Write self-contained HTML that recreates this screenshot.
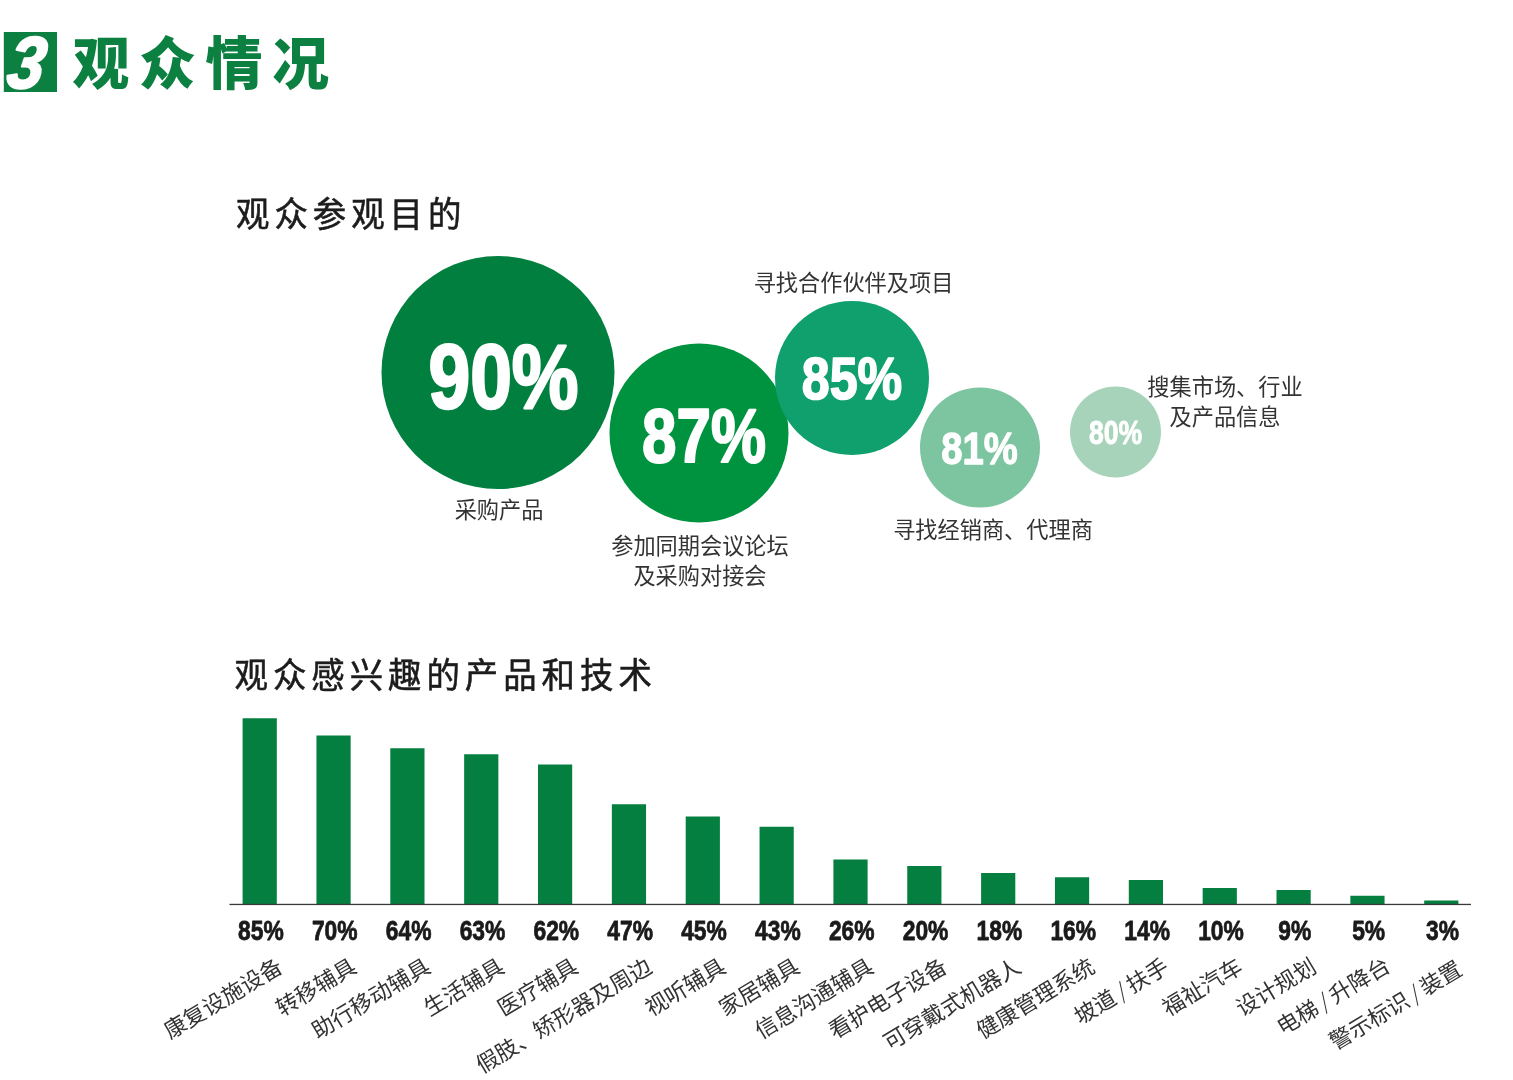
<!DOCTYPE html>
<html lang="zh-CN">
<head>
<meta charset="utf-8">
<title>观众情况</title>
<style>
html,body{margin:0;padding:0;background:#fff;}
body{width:1513px;height:1080px;overflow:hidden;}
svg{display:block;}
text{font-family:"Liberation Sans","Noto Sans CJK SC",sans-serif;}
.n{font-family:"Liberation Sans",sans-serif;font-weight:bold;}
.c{font-family:"Liberation Sans","Noto Sans CJK SC",sans-serif;font-weight:400;fill:#333333;font-size:22.2px;}
.sl{font-family:"Noto Sans CJK SC",sans-serif;font-weight:300;}
.h{font-family:"Liberation Sans","Noto Sans CJK SC",sans-serif;font-weight:400;fill:#1c1c1c;stroke:#1c1c1c;stroke-width:0.55px;font-size:33.4px;letter-spacing:5.0px;}
.t{font-family:"Liberation Sans","Noto Sans CJK SC",sans-serif;font-weight:900;fill:#0c8040;font-size:57px;letter-spacing:9.5px;}
</style>
</head>
<body>
<svg width="1513" height="1080" viewBox="0 0 1513 1080">
<rect width="1513" height="1080" fill="#ffffff"/>

<!-- section title -->
<clipPath id="bx"><rect x="3.8" y="32" width="53.2" height="60"/></clipPath>
<rect x="3.8" y="32" width="53.2" height="60" fill="#0c8040"/>
<g clip-path="url(#bx)"><text transform="translate(4.9,88.4) skewX(-9) scale(0.89,0.99)" font-size="74" font-weight="bold" font-style="italic" fill="#ffffff" stroke="#ffffff" stroke-width="2.2" stroke-linejoin="round" class="n">3</text></g>
<text x="72.5" y="84" class="t">观众情况</text>
<text transform="translate(236,227.3) scale(1,1.04)" class="h">观众参观目的</text>
<!-- purpose bubbles -->
<circle cx="699" cy="433" r="89.5" fill="#00933f"/>
<circle cx="498" cy="372.5" r="116.5" fill="#007f3f"/>
<circle cx="980" cy="447.5" r="60" fill="#7dc4a1"/>
<circle cx="852" cy="378" r="77" fill="#0fa06e"/>
<circle cx="1115.5" cy="432" r="45.5" fill="#a6d3ba"/>
<text transform="translate(503.50,407.60) scale(0.82,1)" text-anchor="middle" font-size="91.5" fill="#ffffff" stroke="#ffffff" stroke-width="2.56" stroke-linejoin="round" class="n">90%</text>
<text transform="translate(704.00,461.50) scale(0.82,1)" text-anchor="middle" font-size="75.5" fill="#ffffff" stroke="#ffffff" stroke-width="2.11" stroke-linejoin="round" class="n">87%</text>
<text transform="translate(852.00,399.00) scale(0.836,1)" text-anchor="middle" font-size="60" fill="#ffffff" stroke="#ffffff" stroke-width="1.68" stroke-linejoin="round" class="n">85%</text>
<text transform="translate(979.50,463.50) scale(0.85,1)" text-anchor="middle" font-size="45" fill="#ffffff" stroke="#ffffff" stroke-width="1.26" stroke-linejoin="round" class="n">81%</text>
<text transform="translate(1115.50,443.60) scale(0.815,1)" text-anchor="middle" font-size="32.6" fill="#ffffff" stroke="#ffffff" stroke-width="0.91" stroke-linejoin="round" class="n">80%</text>
<text x="499" y="518" text-anchor="middle" class="c">采购产品</text>
<text x="700" y="553.5" text-anchor="middle" class="c">参加同期会议论坛</text>
<text x="700" y="584" text-anchor="middle" class="c">及采购对接会</text>
<text x="853.5" y="290.5" text-anchor="middle" class="c">寻找合作伙伴及项目</text>
<text x="993" y="538" text-anchor="middle" class="c">寻找经销商、代理商</text>
<text x="1225" y="395" text-anchor="middle" class="c">搜集市场、行业</text>
<text x="1225" y="424.5" text-anchor="middle" class="c">及产品信息</text>
<text transform="translate(234.5,688.3) scale(1,1.04)" class="h">观众感兴趣的产品和技术</text>
<!-- interest bar chart -->
<rect x="242.60" y="718.25" width="34.2" height="185.75" fill="#047f40"/>
<rect x="316.45" y="735.50" width="34.2" height="168.50" fill="#047f40"/>
<rect x="390.30" y="748.25" width="34.2" height="155.75" fill="#047f40"/>
<rect x="464.15" y="754.25" width="34.2" height="149.75" fill="#047f40"/>
<rect x="538.00" y="764.50" width="34.2" height="139.50" fill="#047f40"/>
<rect x="611.85" y="804.25" width="34.2" height="99.75" fill="#047f40"/>
<rect x="685.70" y="816.50" width="34.2" height="87.50" fill="#047f40"/>
<rect x="759.55" y="826.75" width="34.2" height="77.25" fill="#047f40"/>
<rect x="833.40" y="859.50" width="34.2" height="44.50" fill="#047f40"/>
<rect x="907.25" y="866.00" width="34.2" height="38.00" fill="#047f40"/>
<rect x="981.10" y="873.00" width="34.2" height="31.00" fill="#047f40"/>
<rect x="1054.95" y="877.25" width="34.2" height="26.75" fill="#047f40"/>
<rect x="1128.80" y="880.00" width="34.2" height="24.00" fill="#047f40"/>
<rect x="1202.65" y="888.00" width="34.2" height="16.00" fill="#047f40"/>
<rect x="1276.50" y="890.00" width="34.2" height="14.00" fill="#047f40"/>
<rect x="1350.35" y="895.75" width="34.2" height="8.25" fill="#047f40"/>
<rect x="1424.20" y="900.50" width="34.2" height="3.50" fill="#047f40"/>
<rect x="229.5" y="903.80" width="1241.5" height="1.3" fill="#3a3a3a"/>
<text transform="translate(260.90,939.60) scale(0.845,1)" text-anchor="middle" font-size="27" fill="#1a1a1a" stroke="#1a1a1a" stroke-width="0.76" stroke-linejoin="round" class="n">85%</text>
<text transform="translate(334.75,939.60) scale(0.845,1)" text-anchor="middle" font-size="27" fill="#1a1a1a" stroke="#1a1a1a" stroke-width="0.76" stroke-linejoin="round" class="n">70%</text>
<text transform="translate(408.60,939.60) scale(0.845,1)" text-anchor="middle" font-size="27" fill="#1a1a1a" stroke="#1a1a1a" stroke-width="0.76" stroke-linejoin="round" class="n">64%</text>
<text transform="translate(482.45,939.60) scale(0.845,1)" text-anchor="middle" font-size="27" fill="#1a1a1a" stroke="#1a1a1a" stroke-width="0.76" stroke-linejoin="round" class="n">63%</text>
<text transform="translate(556.30,939.60) scale(0.845,1)" text-anchor="middle" font-size="27" fill="#1a1a1a" stroke="#1a1a1a" stroke-width="0.76" stroke-linejoin="round" class="n">62%</text>
<text transform="translate(630.15,939.60) scale(0.845,1)" text-anchor="middle" font-size="27" fill="#1a1a1a" stroke="#1a1a1a" stroke-width="0.76" stroke-linejoin="round" class="n">47%</text>
<text transform="translate(704.00,939.60) scale(0.845,1)" text-anchor="middle" font-size="27" fill="#1a1a1a" stroke="#1a1a1a" stroke-width="0.76" stroke-linejoin="round" class="n">45%</text>
<text transform="translate(777.85,939.60) scale(0.845,1)" text-anchor="middle" font-size="27" fill="#1a1a1a" stroke="#1a1a1a" stroke-width="0.76" stroke-linejoin="round" class="n">43%</text>
<text transform="translate(851.70,939.60) scale(0.845,1)" text-anchor="middle" font-size="27" fill="#1a1a1a" stroke="#1a1a1a" stroke-width="0.76" stroke-linejoin="round" class="n">26%</text>
<text transform="translate(925.55,939.60) scale(0.845,1)" text-anchor="middle" font-size="27" fill="#1a1a1a" stroke="#1a1a1a" stroke-width="0.76" stroke-linejoin="round" class="n">20%</text>
<text transform="translate(999.40,939.60) scale(0.845,1)" text-anchor="middle" font-size="27" fill="#1a1a1a" stroke="#1a1a1a" stroke-width="0.76" stroke-linejoin="round" class="n">18%</text>
<text transform="translate(1073.25,939.60) scale(0.845,1)" text-anchor="middle" font-size="27" fill="#1a1a1a" stroke="#1a1a1a" stroke-width="0.76" stroke-linejoin="round" class="n">16%</text>
<text transform="translate(1147.10,939.60) scale(0.845,1)" text-anchor="middle" font-size="27" fill="#1a1a1a" stroke="#1a1a1a" stroke-width="0.76" stroke-linejoin="round" class="n">14%</text>
<text transform="translate(1220.95,939.60) scale(0.845,1)" text-anchor="middle" font-size="27" fill="#1a1a1a" stroke="#1a1a1a" stroke-width="0.76" stroke-linejoin="round" class="n">10%</text>
<text transform="translate(1294.80,939.60) scale(0.845,1)" text-anchor="middle" font-size="27" fill="#1a1a1a" stroke="#1a1a1a" stroke-width="0.76" stroke-linejoin="round" class="n">9%</text>
<text transform="translate(1368.65,939.60) scale(0.845,1)" text-anchor="middle" font-size="27" fill="#1a1a1a" stroke="#1a1a1a" stroke-width="0.76" stroke-linejoin="round" class="n">5%</text>
<text transform="translate(1442.50,939.60) scale(0.845,1)" text-anchor="middle" font-size="27" fill="#1a1a1a" stroke="#1a1a1a" stroke-width="0.76" stroke-linejoin="round" class="n">3%</text>
<text transform="translate(284.20,971.00) rotate(-31)" text-anchor="end" class="c">康复设施设备</text>
<text transform="translate(358.05,971.00) rotate(-31)" text-anchor="end" class="c">转移辅具</text>
<text transform="translate(431.90,971.00) rotate(-31)" text-anchor="end" class="c">助行移动辅具</text>
<text transform="translate(505.75,971.00) rotate(-31)" text-anchor="end" class="c">生活辅具</text>
<text transform="translate(579.60,971.00) rotate(-31)" text-anchor="end" class="c">医疗辅具</text>
<text transform="translate(653.45,971.00) rotate(-31)" text-anchor="end" class="c">假肢、矫形器及周边</text>
<text transform="translate(727.30,971.00) rotate(-31)" text-anchor="end" class="c">视听辅具</text>
<text transform="translate(801.15,971.00) rotate(-31)" text-anchor="end" class="c">家居辅具</text>
<text transform="translate(875.00,971.00) rotate(-31)" text-anchor="end" class="c">信息沟通辅具</text>
<text transform="translate(948.85,971.00) rotate(-31)" text-anchor="end" class="c">看护电子设备</text>
<text transform="translate(1022.70,971.00) rotate(-31)" text-anchor="end" class="c">可穿戴式机器人</text>
<text transform="translate(1096.55,971.00) rotate(-31)" text-anchor="end" class="c">健康管理系统</text>
<text transform="translate(1170.40,971.00) rotate(-31)" text-anchor="end" class="c">坡道<tspan dx="4.2" class="sl">/</tspan><tspan dx="3.6">扶手</tspan></text>
<text transform="translate(1244.25,971.00) rotate(-31)" text-anchor="end" class="c">福祉汽车</text>
<text transform="translate(1318.10,971.00) rotate(-31)" text-anchor="end" class="c">设计规划</text>
<text transform="translate(1391.95,970.00) rotate(-31)" text-anchor="end" class="c">电梯<tspan dx="4.2" class="sl">/</tspan><tspan dx="3.6">升降台</tspan></text>
<text transform="translate(1463.80,973.50) rotate(-31)" text-anchor="end" class="c">警示标识<tspan dx="4.2" class="sl">/</tspan><tspan dx="3.6">装置</tspan></text>
</svg>
</body>
</html>
